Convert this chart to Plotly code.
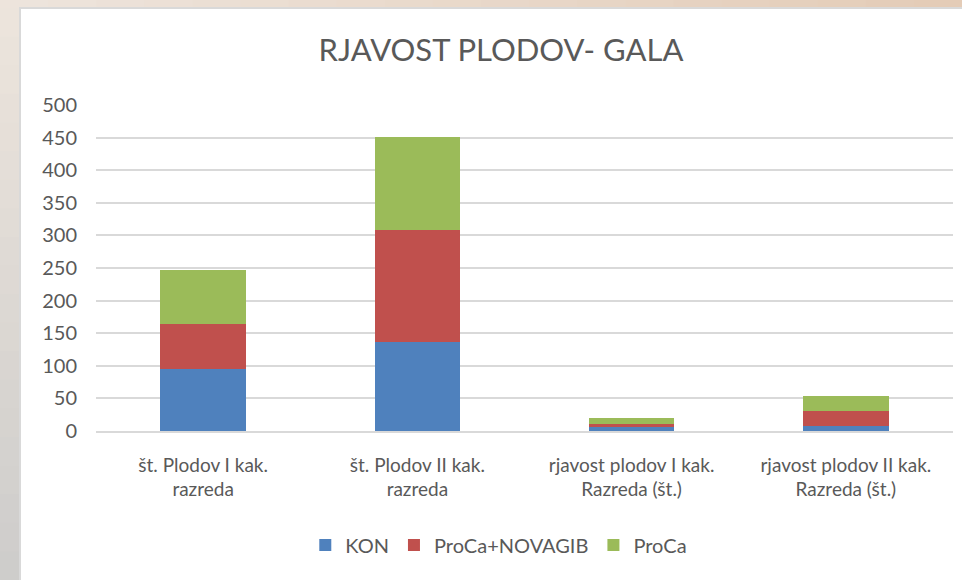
import plotly.graph_objects as go

categories = ["št. Plodov I kak.<br>razreda", "št. Plodov II kak.<br>razreda",
              "rjavost plodov I kak.<br>Razreda (št.)", "rjavost plodov II kak.<br>Razreda (št.)"]
kon = [95, 137, 7, 8]
proca_novagib = [69, 171, 3, 23]
proca = [83, 143, 10, 22]
series_names = ["KON", "ProCa+NOVAGIB", "ProCa"]
y_ticks = [0, 50, 100, 150, 200, 250, 300, 350, 400, 450, 500]

W, H = 962, 580
L, R, T, B = 96, 953, 105, 431  # plot area in pixels

def px(x):
    return (x - L) / (R - L)

def py(y):
    return (B - y) / (B - T)

FONT = "Lato"
GREY = "#595959"

fig = go.Figure()
colors = ["#4f81bd", "#c0504d", "#9bbb59"]
for name, vals, c in zip(series_names, [kon, proca_novagib, proca], colors):
    fig.add_trace(go.Bar(x=categories, y=vals, name=name, marker_color=c,
                         marker_line_width=0))

shapes = []
n = 20
def mix(c1, c2, t):
    return "rgb(%d,%d,%d)" % tuple(round(a + (b - a) * t) for a, b in zip(c1, c2))
# top strip gradient (beige -> tan)
for i in range(n):
    x0 = W * i / n
    x1 = W * (i + 1) / n + 1
    shapes.append(dict(type="rect", xref="paper", yref="paper", layer="below",
                       x0=px(x0), x1=px(x1), y0=py(-2), y1=py(10),
                       fillcolor=mix((237, 228, 220), (228, 204, 183), i / (n - 1)),
                       line_width=0))
# left strip gradient (beige -> grey)
for i in range(n):
    y0 = 8 + (H - 8) * i / n
    y1 = 8 + (H - 8) * (i + 1) / n + 1
    shapes.append(dict(type="rect", xref="paper", yref="paper", layer="below",
                       x0=px(-2), x1=px(20), y0=py(y0), y1=py(y1),
                       fillcolor=mix((236, 228, 220), (206, 205, 203), i / (n - 1)),
                       line_width=0))
# white chart area
shapes.append(dict(type="rect", xref="paper", yref="paper", layer="below",
                   x0=px(20), x1=px(W + 5), y0=py(8), y1=py(H + 5),
                   fillcolor="white", line=dict(color="#d9d9d9", width=2)))

fig.update_layout(
    width=W, height=H,
    margin=dict(l=L, r=W - R, t=T, b=H - B, pad=0),
    barmode="stack", bargap=0.6,
    paper_bgcolor="white", plot_bgcolor="rgba(0,0,0,0)",
    font=dict(family=FONT, color=GREY, size=19),
    title=dict(text="RJAVOST PLODOV- GALA", x=501 / W, xref="container", xanchor="center",
               y=1 - 50 / H, yref="container", yanchor="middle",
               font=dict(family=FONT, size=31, color=GREY)),
    showlegend=True,
    legend=dict(orientation="h", x=0.47, xanchor="center", y=py(545), yanchor="middle",
                font=dict(family=FONT, size=20, color=GREY), traceorder="normal",
                bgcolor="rgba(0,0,0,0)"),
    shapes=shapes,
)
fig.update_yaxes(range=[0, 500], tickvals=y_ticks, showgrid=True, gridcolor="#d9d9d9",
                 gridwidth=1.5, zeroline=False, showline=False, ticks="",
                 ticklabelstandoff=18, tickfont=dict(size=20, color=GREY, family=FONT))
fig.update_xaxes(showline=True, linecolor="#d9d9d9", linewidth=1.5, ticks="",
                 ticklabelstandoff=16, tickfont=dict(size=19, color=GREY, family=FONT))

fig.write_html("out.html", config={"displayModeBar": False},
               post_script="document.body.style.margin='0';document.body.style.overflow='hidden';")
